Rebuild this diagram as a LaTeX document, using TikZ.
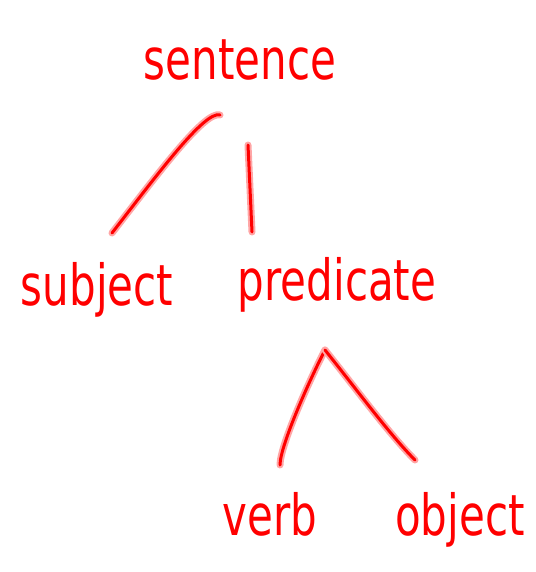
\documentclass[tikz,border=0pt]{standalone}
\usepackage{fontspec}
\setmainfont{DejaVu Sans}
\newcommand{\tallword}[1]{\scalebox{1}[1.35]{#1}}
\begin{document}
\begin{tikzpicture}[x=1pt,y=-1pt,
  lbl/.style={text=red, inner sep=0pt, anchor=base, font=\fontsize{42}{48}\selectfont},
  conn/.style={draw=red, line width=3pt, line cap=round, line join=round,
    preaction={draw=red!35, line width=7pt, line cap=round}}]
\useasboundingbox (0,0) rectangle (535,572);
\node[lbl] (sentence) at (240,80) {\tallword{sentence}};
\node[lbl] (subject) at (97,305) {\tallword{subject}};
\node[lbl] (predicate) at (337,300) {\tallword{predicate}};
\node[lbl] (verb) at (270,535) {\tallword{verb}};
\node[lbl] (object) at (460,535) {\tallword{object}};
\draw[conn] ([shift={(-20,35)}]sentence.base) .. controls ([shift={(-35,30)}]sentence.base) and ([shift={(60,-130)}]subject.base) .. ([shift={(15,-72)}]subject.base);
\draw[conn] ([shift={(8,65)}]sentence.base) -- ([shift={(-85,-68)}]predicate.base);
\draw[conn] ([shift={(-12,50)}]predicate.base) .. controls ([shift={(-25,75)}]predicate.base) and ([shift={(10,-90)}]verb.base) .. ([shift={(10,-70)}]verb.base);
\draw[conn] ([shift={(-12,50)}]predicate.base) .. controls ([shift={(20,90)}]predicate.base) and ([shift={(-70,-100)}]object.base) .. ([shift={(-45,-75)}]object.base);
\end{tikzpicture}
\end{document}
